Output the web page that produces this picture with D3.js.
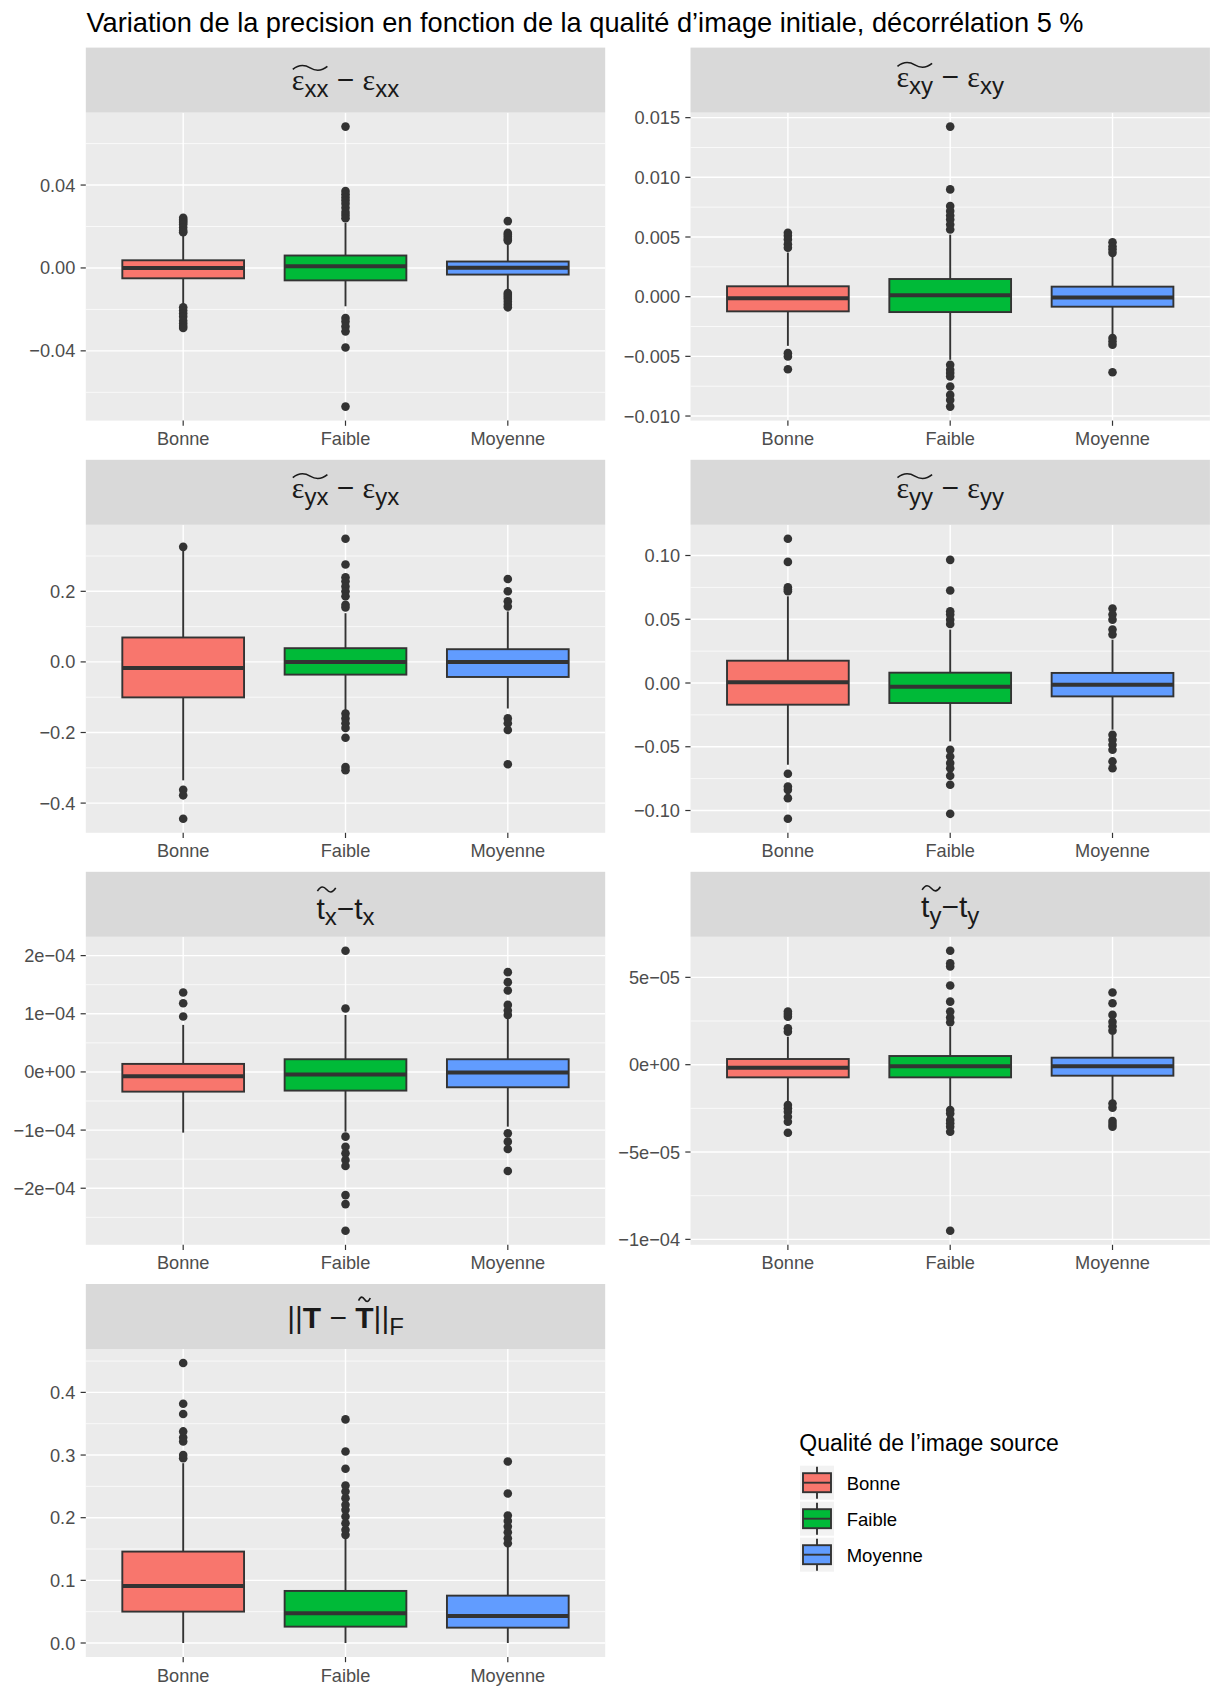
<!DOCTYPE html>
<html><head><meta charset="utf-8">
<script src="https://cdn.jsdelivr.net/npm/d3@7"></script>
<style>body{margin:0;background:#fff}svg{display:block}</style>
</head><body><svg id="chart" width="1211" height="1686"></svg>
<script>
// ---------- DATA ----------
const chartTitle = "Variation de la precision en fonction de la qualité d’image initiale, décorrélation 5 %";
const legendTitle = "Qualité de l’image source";
const categories = ["Bonne", "Faible", "Moyenne"];
const fillColors = ["#F8766D", "#00BA38", "#619CFF"];

// stats per category: [lower whisker, Q1, median, Q3, upper whisker]
const exxStats = [[-0.0177, -0.0050, 0.0000, 0.0037, 0.0161], [-0.0185, -0.0060, 0.0008, 0.0060, 0.0218], [-0.0113, -0.0032, 0.0001, 0.0031, 0.0118]];
const exxOutliers = [
  [0.0242, 0.0233, 0.0226, 0.0218, 0.0210, 0.0195, 0.0180, 0.0172, -0.0190, -0.0205, -0.0220, -0.0235, -0.0255, -0.0268, -0.0280, -0.0290],
  [0.0682, 0.0371, 0.0355, 0.0340, 0.0325, 0.0310, 0.0290, 0.0270, 0.0255, 0.0240, -0.0242, -0.0258, -0.0282, -0.0306, -0.0384, -0.0669],
  [0.0226, 0.0169, 0.0160, 0.0150, 0.0140, 0.0132, -0.0121, -0.0130, -0.0140, -0.0150, -0.0163, -0.0177, -0.0190]];
const exxTicks = [-0.04, 0, 0.04];
const exxTickLabels = ["−0.04", "0.00", "0.04"];

const exyStats = [[-0.00412, -0.00123, -0.00014, 0.00087, 0.00370], [-0.00529, -0.00129, 0.00011, 0.00148, 0.00520], [-0.00333, -0.00084, -0.00006, 0.00084, 0.00340]];
const exyOutliers = [
  [0.00535, 0.00510, 0.00480, 0.00440, 0.00410, -0.00473, -0.00501, -0.00608],
  [0.01425, 0.00899, 0.00759, 0.00717, 0.00680, 0.00647, 0.00605, 0.00563, -0.00571, -0.00613, -0.00640, -0.00669, -0.00753, -0.00823, -0.00865, -0.00921],
  [0.00456, 0.00420, 0.00395, 0.00367, -0.00347, -0.00375, -0.00403, -0.00633]];
const exyTicks = [-0.010, -0.005, 0, 0.005, 0.010, 0.015];
const exyTickLabels = ["−0.010", "−0.005", "0.000", "0.005", "0.010", "0.015"];

const eyxStats = [[-0.3355, -0.1005, -0.0171, 0.0692, 0.3180], [-0.141, -0.036, 0.0, 0.0389, 0.138], [-0.132, -0.0427, 0.0, 0.036, 0.143]];
const eyxOutliers = [
  [0.326, -0.362, -0.378, -0.4445],
  [0.3488, 0.2758, 0.240, 0.2284, 0.214, 0.200, 0.186, 0.162, 0.1545, -0.146, -0.160, -0.174, -0.187, -0.215, -0.2976, -0.307],
  [0.235, 0.200, 0.1716, 0.157, -0.160, -0.174, -0.193, -0.290]];
const eyxTicks = [-0.4, -0.2, 0, 0.2];
const eyxTickLabels = ["−0.4", "−0.2", "0.0", "0.2"];

const eyyStats = [[-0.0641, -0.0170, 0.0005, 0.0175, 0.0680], [-0.0458, -0.0157, -0.0029, 0.0081, 0.0419], [-0.0366, -0.0105, -0.0013, 0.0079, 0.0340]];
const eyyOutliers = [
  [0.1131, 0.0950, 0.0751, 0.0733, 0.0720, -0.0712, -0.0812, -0.0838, -0.0903, -0.1065],
  [0.0966, 0.0725, 0.0563, 0.0537, 0.0497, 0.0463, -0.0524, -0.0576, -0.0628, -0.0668, -0.0728, -0.0798, -0.1026],
  [0.0584, 0.0537, 0.0497, 0.0419, 0.0380, -0.0406, -0.0445, -0.0484, -0.0524, -0.0615, -0.0668]];
const eyyTicks = [-0.10, -0.05, 0, 0.05, 0.10];
const eyyTickLabels = ["−0.10", "−0.05", "0.00", "0.05", "0.10"];

const txStats = [[-1.044e-4, -0.339e-4, -0.075e-4, 0.138e-4, 0.809e-4], [-1.027e-4, -0.321e-4, -0.046e-4, 0.218e-4, 0.980e-4], [-0.941e-4, -0.264e-4, -0.011e-4, 0.218e-4, 0.924e-4]];
const txOutliers = [
  [0.953e-4, 1.182e-4, 1.366e-4],
  [1.090e-4, 2.083e-4, -1.113e-4, -1.286e-4, -1.400e-4, -1.515e-4, -1.618e-4, -2.118e-4, -2.273e-4, -2.732e-4],
  [0.981e-4, 1.056e-4, 1.153e-4, 1.400e-4, 1.544e-4, 1.716e-4, -1.056e-4, -1.199e-4, -1.326e-4, -1.704e-4]];
const txTicks = [-2e-4, -1e-4, 0, 1e-4, 2e-4];
const txTickLabels = ["−2e−04", "−1e−04", "0e+00", "1e−04", "2e−04"];

const tyStats = [[-2.12e-5, -0.726e-5, -0.172e-5, 0.325e-5, 1.605e-5], [-2.41e-5, -0.726e-5, -0.096e-5, 0.497e-5, 2.18e-5], [-2.03e-5, -0.630e-5, -0.096e-5, 0.401e-5, 1.70e-5]];
const tyOutliers = [
  [1.89e-5, 2.08e-5, 2.75e-5, 2.90e-5, 3.04e-5, -2.31e-5, -2.50e-5, -2.69e-5, -2.98e-5, -3.27e-5, -3.90e-5],
  [2.43e-5, 2.70e-5, 3.04e-5, 3.61e-5, 4.53e-5, 5.62e-5, 5.81e-5, 6.52e-5, -2.60e-5, -2.80e-5, -3.17e-5, -3.35e-5, -3.55e-5, -3.84e-5, -9.51e-5],
  [1.95e-5, 2.20e-5, 2.46e-5, 2.85e-5, 3.52e-5, 4.13e-5, -2.22e-5, -2.46e-5, -3.23e-5, -3.40e-5, -3.55e-5]];
const tyTicks = [-1e-4, -5e-5, 0, 5e-5];
const tyTickLabels = ["−1e−04", "−5e−05", "0e+00", "5e−05"];

const tnStats = [[0.0, 0.0501, 0.0911, 0.1459, 0.287], [0.0, 0.0261, 0.0474, 0.0831, 0.167], [0.0, 0.0245, 0.0431, 0.0756, 0.154]];
const tnOutliers = [
  [0.295, 0.300, 0.3217, 0.328, 0.3377, 0.3654, 0.3819, 0.4469],
  [0.1726, 0.1806, 0.1912, 0.2019, 0.2125, 0.2205, 0.2312, 0.2418, 0.2514, 0.278, 0.3057, 0.3569],
  [0.1593, 0.1672, 0.1768, 0.1859, 0.1949, 0.2035, 0.2386, 0.2897]];
const tnTicks = [0, 0.1, 0.2, 0.3, 0.4];
const tnTickLabels = ["0.0", "0.1", "0.2", "0.3", "0.4"];

// strip label pieces
const exxLabel = [{m: "ε", serif: true, sub: "xx", tilde: "wide"}, {m: " − "}, {m: "ε", serif: true, sub: "xx"}];
const exyLabel = [{m: "ε", serif: true, sub: "xy", tilde: "wide"}, {m: " − "}, {m: "ε", serif: true, sub: "xy"}];
const eyxLabel = [{m: "ε", serif: true, sub: "yx", tilde: "wide"}, {m: " − "}, {m: "ε", serif: true, sub: "yx"}];
const eyyLabel = [{m: "ε", serif: true, sub: "yy", tilde: "wide"}, {m: " − "}, {m: "ε", serif: true, sub: "yy"}];
const txLabel = [{m: "t", sub: "x", tilde: "wide"}, {m: "−"}, {m: "t", sub: "x"}];
const tyLabel = [{m: "t", sub: "y", tilde: "wide"}, {m: "−"}, {m: "t", sub: "y"}];
const tnLabel = [{m: "||"}, {m: "T", bold: true}, {m: " − "}, {m: "T", bold: true, tilde: "main"}, {m: "||", sub: "F"}];

const panels = [
  {stats: exxStats, out: exxOutliers, ticks: exxTicks, labels: exxTickLabels, strip: exxLabel},
  {stats: exyStats, out: exyOutliers, ticks: exyTicks, labels: exyTickLabels, strip: exyLabel},
  {stats: eyxStats, out: eyxOutliers, ticks: eyxTicks, labels: eyxTickLabels, strip: eyxLabel},
  {stats: eyyStats, out: eyyOutliers, ticks: eyyTicks, labels: eyyTickLabels, strip: eyyLabel},
  {stats: txStats, out: txOutliers, ticks: txTicks, labels: txTickLabels, strip: txLabel},
  {stats: tyStats, out: tyOutliers, ticks: tyTicks, labels: tyTickLabels, strip: tyLabel},
  {stats: tnStats, out: tnOutliers, ticks: tnTicks, labels: tnTickLabels, strip: tnLabel}
];

// ---------- LAYOUT ----------
const colX = [85.8, 690.5];
const panelW = 519.4;
const rowTop = [47.6, 459.8, 871.8, 1284];
const stripH = 65, plotH = 308;
const stripBaseline = [42.3, 39.3, 38.3, 38.3, 46.7, 45.5, 44.3];
const FONT = "'Liberation Sans', Arial, Helvetica, sans-serif";
const dark = "#333333";
const tickSize = 18.2;

const svg = d3.select("#chart");
svg.append("rect").attr("width", 1211).attr("height", 1686).attr("fill", "#fff");

svg.append("text").attr("x", 86.5).attr("y", 31.5)
  .attr("font-family", FONT).attr("font-size", 27.2).attr("fill", "#000")
  .text(chartTitle);

function drawStripLabel(g, parts, cx, baseY) {
  const lg = g.append("g");
  let x = 0;
  const mainSize = 30, subSize = 24, subShift = 6.7;
  parts.forEach(p => {
    const t = lg.append("text").attr("x", x).attr("y", 0)
      .attr("font-family", p.serif ? "'Liberation Serif', 'DejaVu Serif', serif" : FONT)
      .attr("font-size", mainSize).attr("font-weight", p.bold ? "bold" : "normal")
      .attr("fill", "#1A1A1A").style("white-space", "pre").attr("xml:space", "preserve").text(p.m);
    const w = t.node().getComputedTextLength();
    const start = x;
    x += w;
    const mainEnd = x;
    if (p.sub) {
      const s = lg.append("text").attr("x", x).attr("y", subShift)
        .attr("font-family", FONT).attr("font-size", subSize).attr("fill", "#1A1A1A").text(p.sub);
      x += s.node().getComputedTextLength();
    }
    if (p.tilde) {
      let x0, x1, yc, amp;
      if (p.tilde === "wide") {
        x0 = start + 1; x1 = x - 1;
        yc = p.serif ? -22 : -29; amp = 2.6;
      } else {
        x0 = start + w * 0.18; x1 = mainEnd - w * 0.18;
        yc = -29; amp = 2.2;
      }
      const wdt = x1 - x0;
      const path = `M${x0},${yc + amp * 0.6} C${x0 + wdt * 0.2},${yc - amp * 1.6} ${x0 + wdt * 0.35},${yc - amp * 1.2} ${x0 + wdt * 0.5},${yc} S${x0 + wdt * 0.8},${yc + amp * 1.6} ${x1},${yc - amp * 0.6}`;
      lg.append("path").attr("d", path).attr("fill", "none").attr("stroke", "#1A1A1A").attr("stroke-width", 1.6);
    }
  });
  lg.attr("transform", `translate(${cx - x / 2},${baseY})`);
}

panels.forEach((p, i) => {
  const row = Math.floor(i / 2), col = i % 2;
  const x0 = colX[col], top = rowTop[row];
  const py0 = top + stripH, py1 = py0 + plotH;
  const g = svg.append("g");

  // scales
  const allVals = p.stats.flat().concat(p.out.flat());
  const lo = d3.min(allVals), hi = d3.max(allVals);
  const pad = (hi - lo) * 0.05;
  const y = d3.scaleLinear().domain([lo - pad, hi + pad]).range([py1, py0]);
  const x = d3.scalePoint().domain(categories).range([x0, x0 + panelW]).padding(0.6);
  const bw = x.step() * 0.75;

  // background
  g.append("rect").attr("x", x0).attr("y", py0).attr("width", panelW).attr("height", plotH).attr("fill", "#EBEBEB");

  // minor grid
  const step = p.ticks[1] - p.ticks[0];
  const minor = [];
  for (let k = -1; k < p.ticks.length; k++) {
    const v = p.ticks[0] + (k + 0.5) * step;
    if (v > y.domain()[0] && v < y.domain()[1]) minor.push(v);
  }
  g.selectAll(".mn").data(minor).enter().append("line")
    .attr("x1", x0).attr("x2", x0 + panelW).attr("y1", d => y(d)).attr("y2", d => y(d))
    .attr("stroke", "#fff").attr("stroke-width", 0.7);
  // major grid
  g.selectAll(".mj").data(p.ticks).enter().append("line")
    .attr("x1", x0).attr("x2", x0 + panelW).attr("y1", d => y(d)).attr("y2", d => y(d))
    .attr("stroke", "#fff").attr("stroke-width", 1.4);
  g.selectAll(".mv").data(categories).enter().append("line")
    .attr("x1", d => x(d)).attr("x2", d => x(d)).attr("y1", py0).attr("y2", py1)
    .attr("stroke", "#fff").attr("stroke-width", 1.4);

  // boxplots
  categories.forEach((c, ci) => {
    const s = p.stats[ci];
    const cx = x(c);
    g.append("line").attr("x1", cx).attr("x2", cx).attr("y1", y(s[0])).attr("y2", y(s[1]))
      .attr("stroke", dark).attr("stroke-width", 1.9);
    g.append("line").attr("x1", cx).attr("x2", cx).attr("y1", y(s[3])).attr("y2", y(s[4]))
      .attr("stroke", dark).attr("stroke-width", 1.9);
    g.append("rect").attr("x", cx - bw / 2).attr("width", bw)
      .attr("y", y(s[3])).attr("height", y(s[1]) - y(s[3]))
      .attr("fill", fillColors[ci]).attr("stroke", dark).attr("stroke-width", 1.9);
    g.append("line").attr("x1", cx - bw / 2).attr("x2", cx + bw / 2).attr("y1", y(s[2])).attr("y2", y(s[2]))
      .attr("stroke", dark).attr("stroke-width", 4);
    g.selectAll(null).data(p.out[ci]).enter().append("circle")
      .attr("cx", cx).attr("cy", d => y(d)).attr("r", 4.3).attr("fill", dark);
  });

  // y axis
  p.ticks.forEach((t, ti) => {
    g.append("line").attr("x1", x0 - 5.2).attr("x2", x0).attr("y1", y(t)).attr("y2", y(t))
      .attr("stroke", dark).attr("stroke-width", 1.2);
    g.append("text").attr("x", x0 - 10.5).attr("y", y(t)).attr("dy", "0.36em")
      .attr("text-anchor", "end").attr("font-family", FONT).attr("font-size", tickSize)
      .attr("fill", "#4D4D4D").text(p.labels[ti]);
  });
  // x axis
  categories.forEach(c => {
    g.append("line").attr("x1", x(c)).attr("x2", x(c)).attr("y1", py1).attr("y2", py1 + 5.2)
      .attr("stroke", dark).attr("stroke-width", 1.2);
    g.append("text").attr("x", x(c)).attr("y", py1 + 24.6).attr("text-anchor", "middle")
      .attr("font-family", FONT).attr("font-size", tickSize).attr("fill", "#4D4D4D").text(c);
  });

  // strip
  g.append("rect").attr("x", x0).attr("y", top).attr("width", panelW).attr("height", stripH).attr("fill", "#D9D9D9");
  drawStripLabel(g, p.strip, x0 + panelW / 2, top + stripBaseline[i]);
});

// ---------- LEGEND ----------
const lgd = svg.append("g");
lgd.append("text").attr("x", 799.3).attr("y", 1450.7).attr("font-family", FONT).attr("font-size", 23)
  .attr("fill", "#000").text(legendTitle);
categories.forEach((c, ci) => {
  const ky = 1465.7 + ci * 36;
  lgd.append("rect").attr("x", 800).attr("y", ky).attr("width", 34).attr("height", 34).attr("fill", "#F2F2F2");
  lgd.append("line").attr("x1", 817).attr("x2", 817).attr("y1", ky + 1).attr("y2", ky + 33)
    .attr("stroke", dark).attr("stroke-width", 1.9);
  lgd.append("rect").attr("x", 803).attr("y", ky + 7.5).attr("width", 28).attr("height", 19)
    .attr("fill", fillColors[ci]).attr("stroke", dark).attr("stroke-width", 1.9);
  lgd.append("line").attr("x1", 803).attr("x2", 831).attr("y1", ky + 17).attr("y2", ky + 17)
    .attr("stroke", dark).attr("stroke-width", 1.9);
  lgd.append("text").attr("x", 846.7).attr("y", ky + 24.3).attr("font-family", FONT).attr("font-size", 18.5)
    .attr("fill", "#000").text(c);
});
</script></body></html>
